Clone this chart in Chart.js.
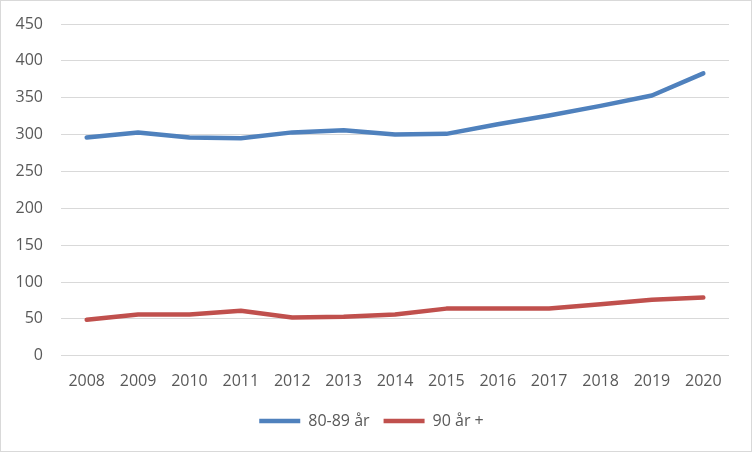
<!DOCTYPE html>
<html>
<head>
<meta charset="utf-8">
<script src="https://cdn.jsdelivr.net/npm/chart.js@4.4.1/dist/chart.umd.min.js"></script>
<style>
  html, body { margin: 0; padding: 0; background: #fff; }
  #container {
    width: 752px; height: 452px; box-sizing: border-box;
    border: 1px solid #d9d9d9; background: #fff;
  }
  #myChart { display: block; }
</style>
</head>
<body>
<div id="container"><canvas id="myChart" width="750" height="450"></canvas></div>
<script>
const years = ['2008', '2009', '2010', '2011', '2012', '2013', '2014',
    '2015', '2016', '2017', '2018', '2019', '2020'];
const age80to89 = [296, 303, 296, 295, 303, 306, 300, 301, 314, 326, 339, 353, 383];
const age90plus = [49, 56, 56, 61, 52, 53, 56, 64, 64, 64, 70, 76, 79];
const seriesNames = ['80-89 år', '90 år +'];

window.addEventListener('load', setup);

function setup() {
    const ctx = document.getElementById('myChart').getContext('2d');
    const textColor = '#595959';
    const font = { family: '"Open Sans", "Liberation Sans", sans-serif', size: 16 };

    new Chart(ctx, {
        type: 'line',
        data: {
            labels: years,
            datasets: [{
                label: seriesNames[0],
                data: age80to89,
                borderColor: '#4f81bd',
                backgroundColor: '#4f81bd',
                borderWidth: 4.5,
                borderCapStyle: 'round',
                borderJoinStyle: 'round',
                pointRadius: 0,
                pointStyle: 'line',
                tension: 0
            }, {
                label: seriesNames[1],
                data: age90plus,
                borderColor: '#c0504d',
                backgroundColor: '#c0504d',
                borderWidth: 4.5,
                borderCapStyle: 'round',
                borderJoinStyle: 'round',
                pointRadius: 0,
                pointStyle: 'line',
                tension: 0
            }]
        },
        options: {
            responsive: false,
            animation: false,
            // a bit of left padding nudges the bottom legend toward the centre
            layout: { padding: { top: 23, right: 22, left: 13, bottom: 12 } },
            plugins: {
                tooltip: { enabled: false },
                legend: {
                    position: 'bottom',
                    labels: {
                        usePointStyle: true,
                        pointStyleWidth: 41,
                        color: textColor,
                        font: font,
                        padding: 14
                    }
                }
            },
            scales: {
                x: {
                    offset: true,
                    grid: { display: false, offset: true },
                    border: { display: false },
                    ticks: { color: textColor, font: font, padding: 8, maxRotation: 0 }
                },
                y: {
                    min: 0,
                    max: 450,
                    afterFit: scale => {
                        // tick padding would otherwise push the plot top down
                        scale.width = 47;
                        scale.paddingTop = 8;
                        scale.paddingBottom = 8;
                    },
                    grid: { color: '#d9d9d9', lineWidth: 1, drawTicks: false },
                    border: { display: false },
                    ticks: {
                        stepSize: 50, color: textColor, padding: 18,
                        font: Object.assign({}, font, { lineHeight: 1 })
                    }
                }
            }
        }
    });
}
</script>
</body>
</html>
